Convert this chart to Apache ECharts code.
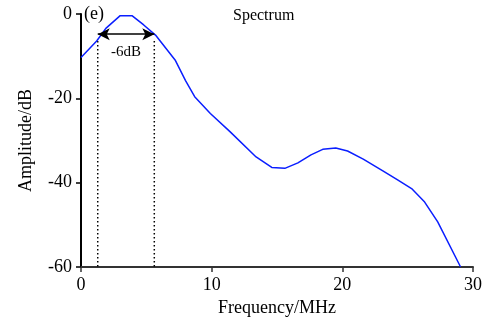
<!DOCTYPE html>
<html>
<head>
<meta charset="utf-8">
<script src="https://cdn.jsdelivr.net/npm/echarts@6/dist/echarts.min.js"></script>
<style>
html,body{margin:0;padding:0;background:#fff;}
#chart{width:491px;height:322px;}
</style>
</head>
<body>
<div id="chart"></div>
<script>
// Spectrum amplitude (dB) against frequency (MHz)
const freq = [0, 1.2, 1.9, 3.0, 3.9, 4.8, 5.7, 7.2, 8.0, 8.7, 9.9, 11.4, 13.4, 14.6, 15.6, 16.6, 17.6, 18.5, 19.5, 20.4, 21.6, 23.1, 24.2, 25.3, 26.3, 27.3, 29.05];
const amp  = [-10.3, -6.4, -3.4, -0.4, -0.4, -2.6, -5.0, -10.9, -15.8, -19.6, -23.6, -27.9, -33.9, -36.4, -36.6, -35.3, -33.4, -32.1, -31.8, -32.5, -34.4, -37.2, -39.3, -41.4, -44.6, -49.3, -60];

// -6 dB bandwidth markers
const bandEdges = [1.28, 5.61];
const arrowLevel = -4.8;
const markerTop = -6.4;
const bandLabel = '-6dB';

const serif = '"Liberation Serif", "Times New Roman", serif';
const chart = echarts.init(document.getElementById('chart'));

const curve = freq.map((f, i) => [f, amp[i]]);

const dottedSeries = bandEdges.map(x => ({
  type: 'line',
  data: [[x, markerTop], [x, -60]],
  symbol: 'none',
  lineStyle: { color: '#000', width: 1.5, type: [1.5, 2.5] },
  silent: true,
  z: 1
}));

chart.setOption({
  animation: false,
  grid: { left: 81, top: 14, right: 18, bottom: 55 },
  xAxis: {
    type: 'value', min: 0, max: 30, interval: 10,
    name: 'Frequency/MHz', nameLocation: 'middle', nameGap: 31,
    nameTextStyle: { fontFamily: serif, fontSize: 18, color: '#000' },
    axisLine: { onZero: false, lineStyle: { color: '#333', width: 2 } },
    axisTick: { show: true, length: 5, lineStyle: { color: '#333', width: 1.5 } },
    axisLabel: { fontFamily: serif, fontSize: 18, color: '#000', margin: 9 },
    splitLine: { show: false }
  },
  yAxis: {
    type: 'value', min: -60, max: 0, interval: 20,
    name: 'Amplitude/dB', nameLocation: 'middle', nameGap: 46,
    nameTextStyle: { fontFamily: serif, fontSize: 18, color: '#000' },
    axisLine: { show: true, onZero: false, lineStyle: { color: '#000', width: 2 } },
    axisTick: { show: true, length: 5, lineStyle: { color: '#000', width: 1.5 } },
    axisLabel: { fontFamily: serif, fontSize: 18, color: '#000', margin: 9 },
    splitLine: { show: false }
  },
  graphic: [
    { type: 'text', left: 84, top: 5, style: { text: '(e)', fontFamily: serif, fontSize: 18, fill: '#000' } },
    { type: 'text', left: 233, top: 8, style: { text: 'Spectrum', fontFamily: serif, fontSize: 16, fill: '#000' } }
  ],
  series: [
    {
      type: 'line',
      data: curve,
      symbol: 'none',
      lineStyle: { color: '#0a1eff', width: 1.5 },
      z: 3
    },
    ...dottedSeries,
    {
      // double-headed arrow spanning the -6 dB bandwidth, with its label
      type: 'scatter',
      data: [[(bandEdges[0] + bandEdges[1]) / 2, arrowLevel]],
      symbolSize: 0,
      itemStyle: { opacity: 1 },
      silent: true,
      z: 4,
      label: {
        show: true, formatter: bandLabel, position: 'bottom', distance: 10,
        fontFamily: serif, fontSize: 15, color: '#000'
      },
      markLine: {
        silent: true,
        symbol: ['arrow', 'arrow'],
        symbolSize: [9, 12],
        label: { show: false },
        lineStyle: { color: '#000', width: 1.5, type: 'solid' },
        data: [[{ coord: [bandEdges[0], arrowLevel] }, { coord: [bandEdges[1], arrowLevel] }]]
      }
    }
  ]
});
</script>
</body>
</html>
